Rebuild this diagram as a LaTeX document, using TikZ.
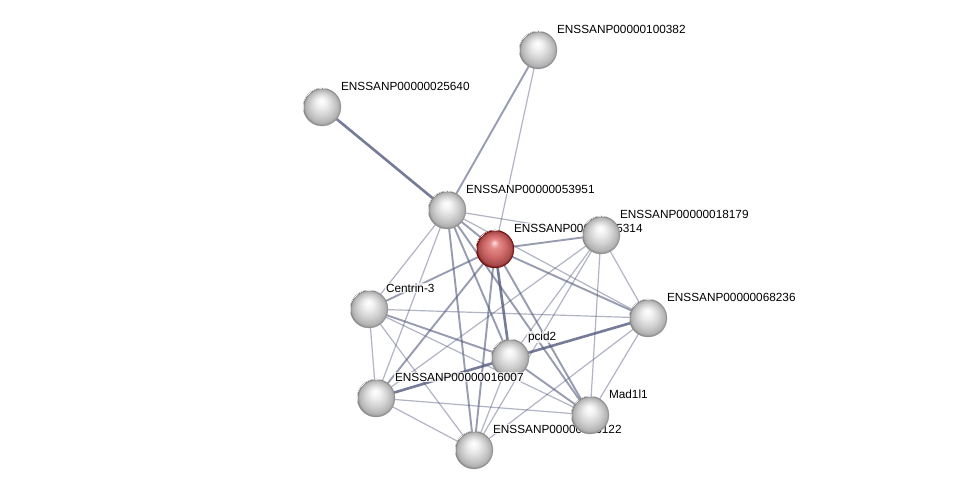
\documentclass[tikz,border=0pt]{standalone}
\usepackage{fontspec}
\setmainfont{Liberation Sans}
\definecolor{edgec}{RGB}{84,90,126}
\pgfdeclareradialshading{greysphere}{\pgfpoint{-1bp}{9bp}}{color(0bp)=(white); color(6bp)=(white!95!black); color(15bp)=(white!82!black); color(22bp)=(white!70!black); color(25bp)=(white!50!black)}
\pgfdeclareradialshading{redsphere}{\pgfpoint{-1bp}{9bp}}{color(0bp)=(red!12!white); color(6bp)=(red!40!white!90!black); color(15bp)=(red!50!white!80!black); color(22bp)=(red!55!white!65!black); color(25bp)=(red!45!black)}
\tikzset{
  prot/.style={circle, minimum size=38pt, inner sep=0pt, shading=greysphere, draw=black!40, line width=0.3pt},
  redprot/.style={prot, shading=redsphere, draw=red!35!black},
  lbl/.style={anchor=west, font=\fontsize{11.8pt}{13pt}\selectfont, fill=white, fill opacity=0.75, text opacity=1, inner sep=0.8pt},
  thin/.style={draw=edgec, line width=1.2pt, opacity=0.45},
  med/.style={draw=edgec, line width=1.9pt, opacity=0.6},
  thick/.style={draw=edgec, line width=2.6pt, opacity=0.8},
}
\begin{document}
\begin{tikzpicture}[x=1pt,y=-1pt]
\useasboundingbox[fill=white] (0,0) rectangle (976,495);
% coordinates
\coordinate (A) at (538,50);
\coordinate (B) at (322,107);
\coordinate (C) at (447,210);
\coordinate (D) at (495,249);
\coordinate (E) at (601,235);
\coordinate (F) at (369,309);
\coordinate (G) at (648,318);
\coordinate (H) at (510,358);
\coordinate (I) at (376,398);
\coordinate (J) at (590,415);
\coordinate (K) at (474,450);
% edges
\draw[med] (A) -- (C);
\draw[thin] (A) -- (D);
\draw[thick] (B) -- (C);
\draw[med] (C) -- (D);
\draw[thin] (C) -- (E);
\draw[thin] (C) -- (F);
\draw[thin] (C) -- (I);
\draw[med] (C) -- (H);
\draw[med] (C) -- (K);
\draw[med] (C) -- (J);
\draw[thin] (C) -- (G);
\draw[med] (D) -- (E);
\draw[med] (D) -- (F);
\draw[med] (D) -- (I);
\draw[thick] (D) -- (H);
\draw[med] (D) -- (K);
\draw[med] (D) -- (J);
\draw[med] (D) -- (G);
\draw[thin] (E) -- (I);
\draw[thin] (E) -- (H);
\draw[thin] (E) -- (K);
\draw[thin] (E) -- (J);
\draw[thin] (E) -- (G);
\draw[thin] (F) -- (G);
\draw[med] (F) -- (H);
\draw[thin] (F) -- (J);
\draw[thin] (F) -- (I);
\draw[thin] (F) -- (K);
\draw[thick] (G) -- (H);
\draw[thin] (G) -- (J);
\draw[thin] (G) -- (K);
\draw[thick] (H) -- (I);
\draw[med] (H) -- (J);
\draw[thin] (H) -- (K);
\draw[thin] (I) -- (J);
\draw[thin] (I) -- (K);
% nodes with labels
\node[prot] (nA) at (A) {};
\node[lbl] (lA) at ([shift={(18,-21)}]A) {ENSSANP00000100382};
\node[prot] (nB) at (B) {};
\node[lbl] (lB) at ([shift={(18,-21)}]B) {ENSSANP00000025640};
\node[prot] (nC) at (C) {};
\node[lbl] (lC) at ([shift={(18,-21)}]C) {ENSSANP00000053951};
\node[redprot] (nD) at (D) {};
\node[lbl] (lD) at ([shift={(18,-21)}]D) {ENSSANP00000065314};
\node[prot] (nE) at (E) {};
\node[lbl] (lE) at ([shift={(18,-21)}]E) {ENSSANP00000018179};
\node[prot] (nF) at (F) {};
\node[lbl] (lF) at ([shift={(16,-21)}]F) {Centrin-3};
\node[prot] (nG) at (G) {};
\node[lbl] (lG) at ([shift={(18,-21)}]G) {ENSSANP00000068236};
\node[prot] (nH) at (H) {};
\node[lbl] (lH) at ([shift={(17,-21)}]H) {pcid2};
\node[prot] (nI) at (I) {};
\node[lbl] (lI) at ([shift={(18,-21)}]I) {ENSSANP00000016007};
\node[prot] (nK) at (K) {};
\node[lbl] (lK) at ([shift={(18,-21)}]K) {ENSSANP00000043122};
\node[prot] (nJ) at (J) {};
\node[lbl] (lJ) at ([shift={(18,-21)}]J) {Mad1l1};
\end{tikzpicture}
\end{document}
